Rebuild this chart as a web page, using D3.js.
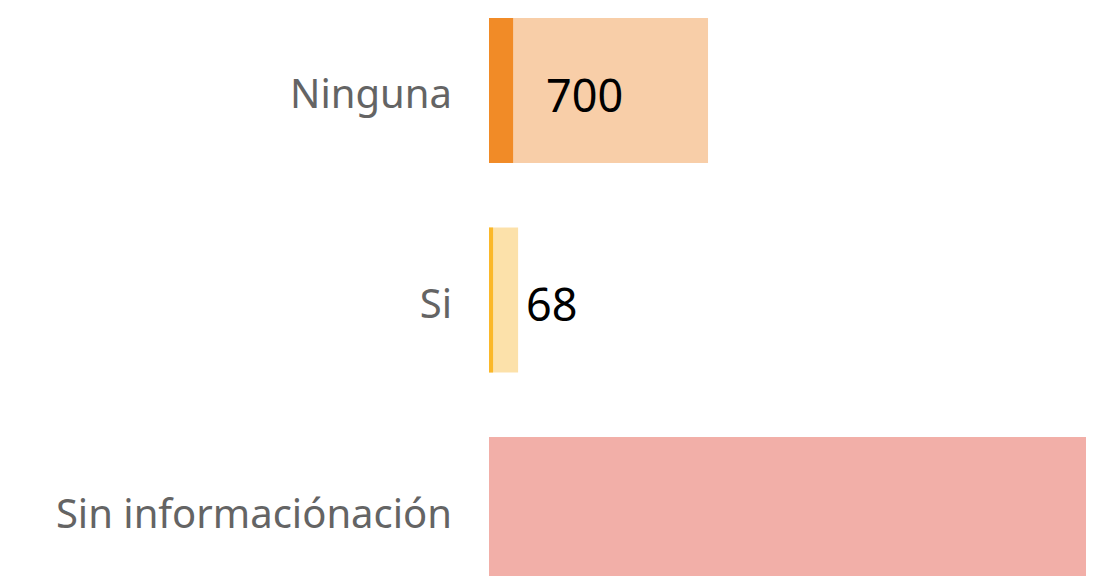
<!DOCTYPE html>
<html>
<head>
<meta charset="utf-8">
<script src="https://cdn.jsdelivr.net/npm/d3@7"></script>
<style>
  body { margin: 0; background: #fff; }
  svg { display: block; }
  .catLabel { font-family: 'Noto Sans', sans-serif; fill: #646464; }
  .valLabel { font-family: 'Noto Sans', sans-serif; fill: #000; }
</style>
</head>
<body>
<div id="chart"></div>
<script>
// Categories and values
var categorias = ['Ninguna', 'Si', 'Sin informaciónación']
var totales = [700, 93, 1908]
var destacados = [77, 13, 0]
var etiquetas = ['700', '68', '']
var coloresClaros = ['#F8CEA8', '#FCE1AA', '#F2AFA8']
var coloresOscuros = ['#F18B27', '#FBB829', '#E8695B']

// Layout
var width = 1116
var height = 576
var margin = { top: 18, left: 489, right: 30 }

var svg = d3.select('#chart').append('svg')
  .attr('width', width)
  .attr('height', height)

// X scale for bar lengths
var x = d3.scaleLinear()
  .domain([0, d3.max(totales)])
  .range([margin.left, width - margin.right])

// Y scale for bar rows
var y = d3.scaleBand()
  .domain(categorias)
  .range([margin.top, margin.top + 564])
  .paddingInner(0.308)
  .paddingOuter(0)

var filas = svg.selectAll('.fila')
  .data(categorias)
  .enter()
  .append('g')
  .attr('class', 'fila')
  .attr('transform', function (d) { return 'translate(0,' + y(d) + ')' })

// Light background bars
filas.append('rect')
  .attr('x', x(0))
  .attr('width', function (d, i) { return x(totales[i]) - x(0) })
  .attr('height', y.bandwidth())
  .style('fill', function (d, i) { return coloresClaros[i] })

// Dark highlight bars
filas.append('rect')
  .attr('x', x(0))
  .attr('width', function (d, i) { return x(destacados[i]) - x(0) })
  .attr('height', y.bandwidth())
  .style('fill', function (d, i) { return coloresOscuros[i] })

// Category labels
filas.append('text')
  .attr('class', 'catLabel')
  .attr('x', margin.left - 37)
  .attr('y', y.bandwidth() / 2)
  .attr('dy', '0.45em')
  .attr('text-anchor', 'end')
  .style('font-size', '40px')
  .text(function (d) { return d })

// Value labels
filas.append('text')
  .attr('class', 'valLabel')
  .attr('x', function (d, i) { return x(destacados[i]) + 33 })
  .attr('y', y.bandwidth() / 2)
  .attr('dy', '0.47em')
  .style('font-size', '45px')
  .text(function (d, i) { return etiquetas[i] })
</script>
</body>
</html>
